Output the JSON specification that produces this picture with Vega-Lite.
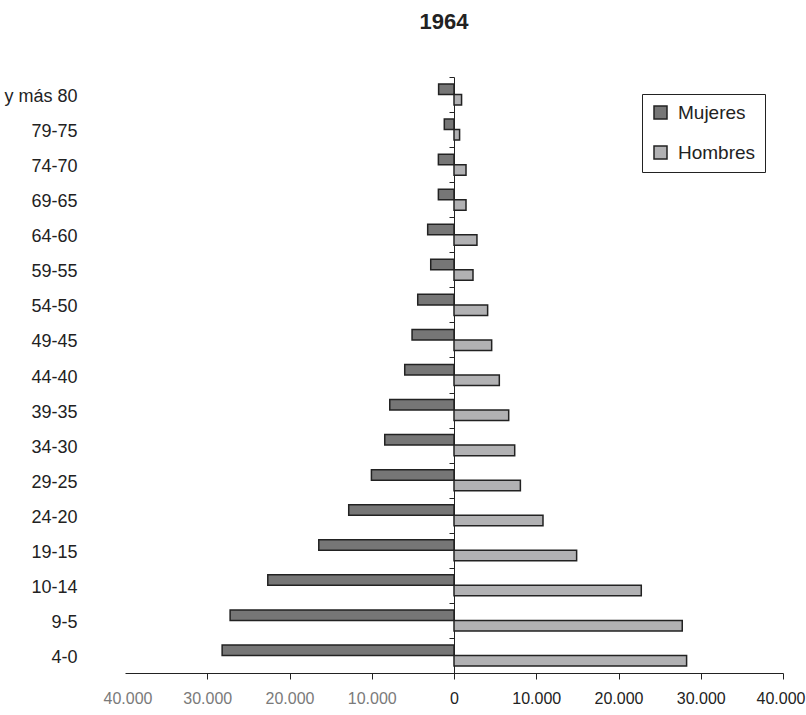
{
  "$schema": "https://vega.github.io/schema/vega-lite/v6.json",
  "width": 658,
  "height": 596,
  "autosize": {"type": "none"},
  "padding": {"left": 125, "top": 77, "right": 23, "bottom": 42},
  "background": "white",
  "title": {
    "text": "1964",
    "fontSize": 22,
    "fontWeight": "bold",
    "font": "Liberation Sans Narrow, Liberation Sans, sans-serif",
    "color": "#222222",
    "anchor": "middle",
    "offset": 34,
    "dx": -10
  },
  "config": {
    "view": {"stroke": null},
    "font": "Liberation Sans Narrow, Liberation Sans, sans-serif"
  },
  "data": {
    "values": [
      {"edad": "y más 80", "sexo": "Mujeres", "valor": -1870},
      {"edad": "y más 80", "sexo": "Hombres", "valor": 920},
      {"edad": "79-75", "sexo": "Mujeres", "valor": -1180},
      {"edad": "79-75", "sexo": "Hombres", "valor": 680},
      {"edad": "74-70", "sexo": "Mujeres", "valor": -1900},
      {"edad": "74-70", "sexo": "Hombres", "valor": 1460},
      {"edad": "69-65", "sexo": "Mujeres", "valor": -1900},
      {"edad": "69-65", "sexo": "Hombres", "valor": 1460},
      {"edad": "64-60", "sexo": "Mujeres", "valor": -3200},
      {"edad": "64-60", "sexo": "Hombres", "valor": 2790},
      {"edad": "59-55", "sexo": "Mujeres", "valor": -2830},
      {"edad": "59-55", "sexo": "Hombres", "valor": 2310},
      {"edad": "54-50", "sexo": "Mujeres", "valor": -4410},
      {"edad": "54-50", "sexo": "Hombres", "valor": 4090},
      {"edad": "49-45", "sexo": "Mujeres", "valor": -5100},
      {"edad": "49-45", "sexo": "Hombres", "valor": 4580},
      {"edad": "44-40", "sexo": "Mujeres", "valor": -5990},
      {"edad": "44-40", "sexo": "Hombres", "valor": 5510},
      {"edad": "39-35", "sexo": "Mujeres", "valor": -7810},
      {"edad": "39-35", "sexo": "Hombres", "valor": 6650},
      {"edad": "34-30", "sexo": "Mujeres", "valor": -8420},
      {"edad": "34-30", "sexo": "Hombres", "valor": 7380},
      {"edad": "29-25", "sexo": "Mujeres", "valor": -10040},
      {"edad": "29-25", "sexo": "Hombres", "valor": 8070},
      {"edad": "24-20", "sexo": "Mujeres", "valor": -12800},
      {"edad": "24-20", "sexo": "Hombres", "valor": 10820},
      {"edad": "19-15", "sexo": "Mujeres", "valor": -16440},
      {"edad": "19-15", "sexo": "Hombres", "valor": 14910},
      {"edad": "10-14", "sexo": "Mujeres", "valor": -22640},
      {"edad": "10-14", "sexo": "Hombres", "valor": 22770},
      {"edad": "9-5", "sexo": "Mujeres", "valor": -27220},
      {"edad": "9-5", "sexo": "Hombres", "valor": 27750},
      {"edad": "4-0", "sexo": "Mujeres", "valor": -28190},
      {"edad": "4-0", "sexo": "Hombres", "valor": 28280}
    ]
  },
  "mark": {"type": "bar", "stroke": "#222222", "strokeWidth": 1.5, "cornerRadius": 0},
  "encoding": {
    "y": {
      "field": "edad",
      "type": "nominal",
      "sort": null,
      "scale": {"paddingInner": 0, "paddingOuter": 0},
      "axis": {
        "title": null,
        "orient": "left",
        "offset": -329,
        "domain": true,
        "domainColor": "#222222",
        "domainWidth": 1,
        "ticks": true,
        "tickBand": "extent",
        "tickSize": 5,
        "tickColor": "#222222",
        "labelPadding": 372,
        "labelFontSize": 18,
        "labelColor": "#222222",
        "labelAlign": "right",
        "labelOffset": 2,
        "grid": false
      }
    },
    "yOffset": {
      "field": "sexo",
      "type": "nominal",
      "sort": ["Mujeres", "Hombres"],
      "scale": {"paddingInner": 0, "paddingOuter": 0.667}
    },
    "x": {
      "field": "valor",
      "type": "quantitative",
      "stack": null,
      "scale": {"domain": [-40000, 40000], "nice": false, "zero": true},
      "axis": {
        "title": null,
        "values": [-40000, -30000, -20000, -10000, 0, 10000, 20000, 30000, 40000],
        "grid": false,
        "domainColor": "#222222",
        "domainWidth": 1,
        "tickColor": {"condition": {"test": "datum.value == -40000", "value": "transparent"}, "value": "#222222"},
        "tickSize": 6,
        "labelFontSize": 16,
        "labelPadding": 11,
        "labelColor": {"condition": {"test": "datum.value < 0", "value": "#7a7a7a"}, "value": "#222222"},
        "labelExpr": "replace(format(abs(datum.value), ','), ',', '.')",
        "labelFlush": true,
        "labelFlushOffset": 22,
        "labelOverlap": false
      }
    },
    "fill": {
      "field": "sexo",
      "type": "nominal",
      "sort": ["Mujeres", "Hombres"],
      "scale": {"domain": ["Mujeres", "Hombres"], "range": ["#767676", "#b1b1b3"]},
      "legend": {
        "title": null,
        "orient": "none",
        "legendX": 517,
        "legendY": 17,
        "direction": "vertical",
        "strokeColor": "#222222",
        "padding": 9,
        "symbolType": "square",
        "symbolSize": 169,
        "symbolStrokeColor": "#222222",
        "symbolStrokeWidth": 1.5,
        "symbolOpacity": 1,
        "labelFontSize": 19,
        "labelColor": "#222222",
        "labelOffset": 8,
        "rowPadding": 20,
        "labelExpr": "datum.label + '\u00a0\u00a0\u00a0\u00a0\u00a0'"
      }
    }
  }
}
